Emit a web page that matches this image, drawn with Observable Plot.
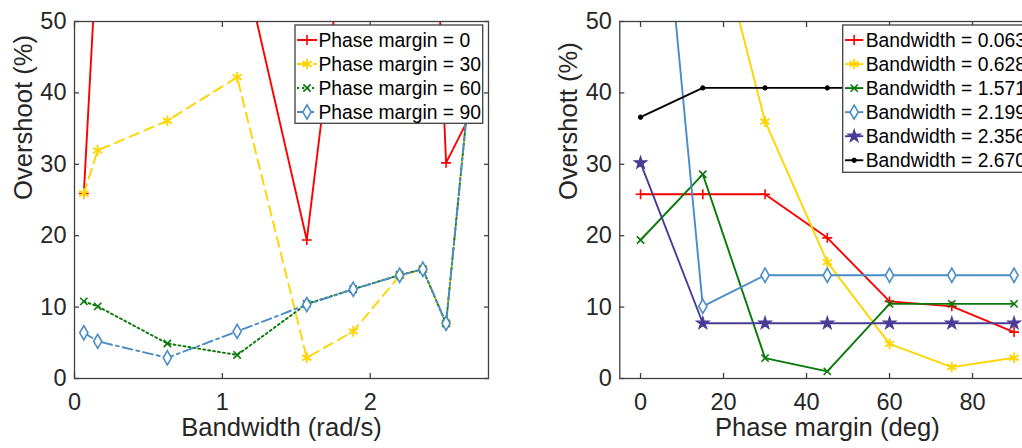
<!DOCTYPE html>
<html><head><meta charset="utf-8">
<script src="https://cdn.jsdelivr.net/npm/d3@7"></script>
<script src="https://cdn.jsdelivr.net/npm/@observablehq/plot@0.6"></script>
<style>
html,body{margin:0;padding:0;background:#fff;overflow:hidden;width:1022px;height:448px;position:relative}
#left{position:absolute;left:0;top:0;width:510px;height:448px}
#right{position:absolute;left:520px;top:0;width:540px;height:448px}
svg{max-width:none !important;}
svg text{font-family:'Liberation Sans', Arial, Helvetica, sans-serif;}
svg text.leg{font-size:19.3px;}
</style></head>
<body><div id="left"></div><div id="right"></div>
<script>
// ---- Left panel data: overshoot (%) vs bandwidth (rad/s), one series per phase margin
const bandwidth = [0.063, 0.157, 0.628, 1.100, 1.571, 1.885, 2.199, 2.356, 2.513, 2.670];
const pm0  = [25.9, 62, 80, 62, 19.4, 72.5, 90, 108, 30.2, 36.6];
const pm30 = [25.9, 31.95, 36.1, 42.2, 2.9, 6.6, 14.4, 15.3, 7.7, 40.7];
const pm60 = [10.8, 10.1, 4.9, 3.3, 10.45, 12.5, 14.5, 15.3, 7.7, 40.7];
const pm90 = [6.4, 5.2, 2.9, 6.6, 10.35, 12.5, 14.46, 15.3, 7.74, 40.7];
const leftLabels = ["Phase margin = 0", "Phase margin = 30", "Phase margin = 60", "Phase margin = 90"];

// ---- Right panel data: overshoot (%) vs phase margin (deg), one series per bandwidth
const phaseMargin = [0, 15, 30, 45, 60, 75, 90];
const bw0063 = [25.8, 25.8, 25.8, 19.7, 10.8, 10.1, 6.5];
const bw0628 = [100, 70, 36.0, 16.3, 4.85, 1.6, 2.9];
const bw1571 = [19.4, 28.6, 2.85, 1.0, 10.45, 10.45, 10.45];
const bw2199 = [102, 10.1, 14.46, 14.46, 14.46, 14.46, 14.46];
const bw2356 = [30.2, 7.74, 7.74, 7.74, 7.74, 7.74, 7.74];
const bw2670 = [36.6, 40.7, 40.7, 40.7, 40.7, 40.7, 40.7];
const rightLabels = ["Bandwidth = 0.063", "Bandwidth = 0.628", "Bandwidth = 1.571", "Bandwidth = 2.199", "Bandwidth = 2.356", "Bandwidth = 2.670"];

const leftXTicks = [0, 1, 2];
const rightXTicks = [0, 20, 40, 60, 80];
const yTicks = [0, 10, 20, 30, 40, 50];

// ---- styles
const FONT = "'Liberation Sans', Arial, Helvetica, sans-serif";
const AX = "#404040";
const TXT = "#262626";
const TICK_FS = 23.5, LABEL_FS = 25.6;
const RED = "#ff0000", YEL = "#ffd500", GRN = "#087808", BLU = "#4a8cc6", PUR = "#4a3c96", BLK = "#000000";

const leftStyles = [
  {color: RED, dash: null, symbol: "plus", r: 3.3, fill: "none", sw: 1.6},
  {color: YEL, dash: "10,6", symbol: "asterisk", r: 5, fill: "none", sw: 1.9},
  {color: GRN, dash: "2,3", symbol: "times", r: 3.4, fill: "none", sw: 1.6},
  {color: BLU, dash: "10,4,3,4", symbol: "diamond", r: 4.3, fill: "white", sw: 1.6}
];
const rightStyles = [
  {color: RED, dash: null, symbol: "plus", r: 3.3, fill: "none", sw: 1.6},
  {color: YEL, dash: null, symbol: "asterisk", r: 5, fill: "none", sw: 1.9},
  {color: GRN, dash: null, symbol: "times", r: 3.4, fill: "none", sw: 1.6},
  {color: BLU, dash: null, symbol: "diamond", r: 4.3, fill: "white", sw: 1.6},
  {color: PUR, dash: null, symbol: "star", r: 3.9, fill: PUR, sw: 1.2},
  {color: BLK, dash: null, symbol: "circle", r: 2.2, fill: BLK, sw: 1}
];

function seriesMarks(xs, ys, st) {
  const rows = xs.map((x, i) => ({x, y: ys[i]}));
  return [
    Plot.line(rows, {x: "x", y: "y", stroke: st.color, strokeWidth: 1.9, strokeDasharray: st.dash ?? undefined, clip: true}),
    Plot.dot(rows, {x: "x", y: "y", symbol: st.symbol, r: st.r, stroke: st.color, strokeWidth: st.sw,
      fill: st.fill, clip: true})
  ];
}

function panel({width, marginLeft, marginRight, xDomain, xTicks, xLabel, yLabel, series}) {
  return Plot.plot({
    width, height: 448, marginLeft, marginRight, marginTop: 21, marginBottom: 70,
    style: {fontFamily: FONT, fontSize: TICK_FS + "px", color: TXT, background: "white", overflow: "visible"},
    x: {domain: xDomain},
    y: {domain: [0, 50]},
    marks: [
      ...series.flat(),
      Plot.axisX({ticks: xTicks, anchor: "bottom", tickSize: -5, tickFormat: () => "", label: null, stroke: AX, strokeWidth: 1.3}),
      Plot.axisX({ticks: xTicks, anchor: "top", tickSize: -5, tickFormat: () => "", label: null, stroke: AX, strokeWidth: 1.3}),
      Plot.axisY({ticks: yTicks, anchor: "left", tickSize: -5, tickFormat: () => "", label: null, stroke: AX, strokeWidth: 1.3}),
      Plot.axisY({ticks: yTicks, anchor: "right", tickSize: -5, tickFormat: () => "", label: null, stroke: AX, strokeWidth: 1.3}),
      Plot.axisX({ticks: xTicks, anchor: "bottom", tickSize: 0, tickPadding: 15, tickFormat: d3.format("d"), label: null, fill: TXT, fontSize: TICK_FS}),
      Plot.axisY({ticks: yTicks, anchor: "left", tickSize: 0, tickPadding: 8, tickFormat: d3.format("d"), label: null, fill: TXT, fontSize: TICK_FS}),
      Plot.frame({stroke: AX, strokeWidth: 1.3}),
      Plot.text([xLabel], {frameAnchor: "bottom", dy: 57, fill: TXT, fontSize: LABEL_FS}),
      Plot.text([yLabel], {frameAnchor: "left", dx: -51, rotate: -90, fill: TXT, fontSize: LABEL_FS})
    ]
  });
}

const symbolMap = {plus: d3.symbolPlus, asterisk: d3.symbolAsterisk, times: d3.symbolTimes,
  diamond: d3.symbolDiamond, star: d3.symbolStar, circle: d3.symbolCircle};

function addLegend(svg, {x0, x1, y0, y1, rowY, sampleX0, sampleX1, textX, labels, styles}) {
  const g = d3.select(svg).append("g");
  g.append("rect").attr("x", x0).attr("y", y0).attr("width", x1 - x0).attr("height", y1 - y0)
    .attr("fill", "white").attr("stroke", AX).attr("stroke-width", 1.3);
  labels.forEach((lab, i) => {
    const st = styles[i], y = rowY(i), cx = (sampleX0 + sampleX1) / 2;
    g.append("line").attr("x1", sampleX0).attr("x2", sampleX1).attr("y1", y).attr("y2", y)
      .attr("stroke", st.color).attr("stroke-width", 1.9).attr("stroke-dasharray", st.dash);
    g.append("path").attr("d", d3.symbol(symbolMap[st.symbol], Math.PI * st.r * st.r)())
      .attr("transform", `translate(${cx},${y})`).attr("stroke", st.color).attr("stroke-width", st.sw)
      .attr("fill", st.fill);
    g.append("text").attr("class", "leg").attr("x", textX).attr("y", y).attr("dy", "0.35em")
      .attr("text-anchor", "start").attr("fill", "#000").text(lab);
  });
}

// ---- left chart
const leftSeries = [pm0, pm30, pm60, pm90].map((ys, i) => seriesMarks(bandwidth, ys, leftStyles[i]));
const leftSvg = panel({width: 510, marginLeft: 74, marginRight: 22, xDomain: [0, 2.8], xTicks: leftXTicks,
  xLabel: "Bandwidth (rad/s)", yLabel: "Overshoot (%)", series: leftSeries});
addLegend(leftSvg, {x0: 295, x1: 482.7, y0: 25, y1: 123.3, rowY: i => 40 + i * 24,
  sampleX0: 297, sampleX1: 317, textX: 318.5, labels: leftLabels, styles: leftStyles});
document.getElementById("left").appendChild(leftSvg);

// ---- right chart
const rightSeries = [bw0063, bw0628, bw1571, bw2199, bw2356, bw2670].map((ys, i) => seriesMarks(phaseMargin, ys, rightStyles[i]));
const rightSvg = panel({width: 540, marginLeft: 99.3, marginRight: 25.7, xDomain: [-5, 95], xTicks: rightXTicks,
  xLabel: "Phase margin (deg)", yLabel: "Overshott (%)", series: rightSeries});
addLegend(rightSvg, {x0: 322.7, x1: 520, y0: 25, y1: 172.3, rowY: i => 40 + i * 24.05,
  sampleX0: 325, sampleX1: 343.3, textX: 345.7, labels: rightLabels, styles: rightStyles});
document.getElementById("right").appendChild(rightSvg);
</script>
</body></html>
